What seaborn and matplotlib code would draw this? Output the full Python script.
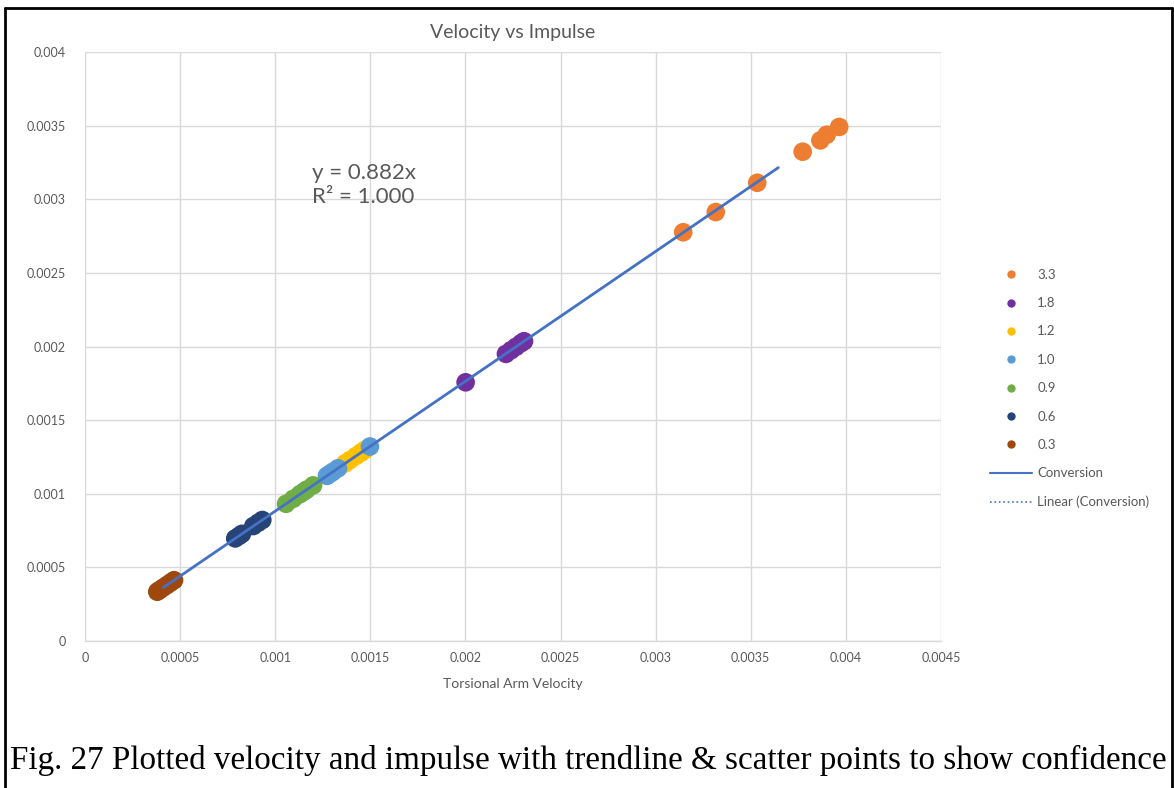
import numpy as np
import pandas as pd
import matplotlib
matplotlib.use("Agg")
import matplotlib.pyplot as plt
import seaborn as sns
from matplotlib.lines import Line2D

# Measured points per impulse setting (torsional arm velocity, impulse)
groups = ["3.3", "1.8", "1.2", "1.0", "0.9", "0.6", "0.3"]
x_33 = [0.003145, 0.003316, 0.003534, 0.003773, 0.003866, 0.003899, 0.003965]
y_33 = [0.002776, 0.002913, 0.003112, 0.003323, 0.003400, 0.003438, 0.003491]
x_18 = [0.002001, 0.002213, 0.002240, 0.002266, 0.002292, 0.002308]
y_18 = [0.001757, 0.001950, 0.001975, 0.001998, 0.002022, 0.002036]
x_12 = [0.001367, 0.001393, 0.001425, 0.001451, 0.001472]
y_12 = [0.001206, 0.001229, 0.001257, 0.001280, 0.001298]
x_10 = [0.001150, 0.001272, 0.001290, 0.001304, 0.001330, 0.001498]
y_10 = [0.001014, 0.001122, 0.001138, 0.001150, 0.001173, 0.001321]
x_09 = [0.001057, 0.001095, 0.001130, 0.001165, 0.001199]
y_09 = [0.000932, 0.000966, 0.000997, 0.001028, 0.001057]
x_06 = [0.000790, 0.000810, 0.000825, 0.000885, 0.000910, 0.000932]
y_06 = [0.000697, 0.000714, 0.000728, 0.000781, 0.000803, 0.000822]
x_03 = [0.000380, 0.000392, 0.000410, 0.000430, 0.000450, 0.000468]
y_03 = [0.000335, 0.000346, 0.000362, 0.000379, 0.000397, 0.000413]

# Conversion line: y = 0.882x over the measured span
slope = 0.882
r_squared = 1.000
conv_x = [0.000412, 0.003645]

palette = ["#ED7D31", "#7030A0", "#FFC000", "#5B9BD5", "#70AD47", "#264478", "#9E480E"]

xs = [x_33, x_18, x_12, x_10, x_09, x_06, x_03]
ys = [y_33, y_18, y_12, y_10, y_09, y_06, y_03]
df = pd.concat(
    [pd.DataFrame({"velocity": x, "impulse": y, "setting": g}) for g, x, y in zip(groups, xs, ys)],
    ignore_index=True,
)

sns.set_theme(style="white")
plt.rcParams["font.family"] = ["Lato", "DejaVu Sans"]
grey = "#595959"

fig = plt.figure(figsize=(11.74, 7.88), dpi=100)
ax = fig.add_axes([0.0724, 0.1865, 0.7291, 0.7475])

sns.scatterplot(data=df, x="velocity", y="impulse", hue="setting", hue_order=groups,
                palette=palette, s=180, edgecolor="none", alpha=1.0, legend=False,
                ax=ax, zorder=3)

conv = pd.DataFrame({"velocity": conv_x, "impulse": [slope * v for v in conv_x]})
sns.lineplot(data=conv, x="velocity", y="impulse", color="#4472C4", linewidth=2.0,
             ax=ax, zorder=4)
ax.plot(conv["velocity"], conv["impulse"], color="#4472C4", linewidth=1.0,
        linestyle=":", zorder=4)

ax.set_xlim(0, 0.0045)
ax.set_ylim(0, 0.004)
xt = np.arange(0, 0.00451, 0.0005)
yt = np.arange(0, 0.00401, 0.0005)
ax.set_xticks(xt)
ax.set_yticks(yt)
ax.set_xticklabels(["0", "0.0005", "0.001", "0.0015", "0.002", "0.0025",
                    "0.003", "0.0035", "0.004", "0.0045"])
ax.set_yticklabels(["0", "0.0005", "0.001", "0.0015", "0.002", "0.0025",
                    "0.003", "0.0035", "0.004"])
ax.tick_params(axis="both", labelsize=9, colors=grey, length=0, pad=8)
ax.tick_params(axis="y", pad=14)
ax.grid(True, color="#d9d9d9", linewidth=1.0)
ax.set_axisbelow(True)
for side in ["top", "right", "left"]:
    ax.spines[side].set_visible(False)
ax.spines["bottom"].set_color("#d9d9d9")
ax.spines["bottom"].set_linewidth(1.0)

ax.set_xlabel("Torsional Arm Velocity", fontsize=10, color=grey, labelpad=10)
ax.set_ylabel("")
ax.set_title("Velocity vs Impulse", fontsize=14, color=grey, pad=10)

ax.text(0.001195, 0.002945, f"y = {slope:.3f}x\nR² = {r_squared:.3f}", fontsize=16,
        color=grey, ha="left", va="bottom", linespacing=1.3, zorder=5)

handles = [Line2D([], [], marker="o", linestyle="none", markersize=6,
                  markerfacecolor=c, markeredgecolor="none", label=g)
           for g, c in zip(groups, palette)]
handles.append(Line2D([], [], color="#4472C4", linewidth=1.5, label="Conversion"))
handles.append(Line2D([], [], color="#4472C4", linewidth=1.2, linestyle=":",
                      label="Linear (Conversion)"))
leg = fig.legend(handles=handles, loc="upper left", bbox_to_anchor=(0.833, 0.674),
                 frameon=False, fontsize=9.5, labelspacing=1.24, handlelength=3.2,
                 handletextpad=0.4, labelcolor=grey)

fig.text(0.0085, 0.035, "Fig. 27 Plotted velocity and impulse with trendline & scatter points to show confidence",
         fontsize=23.9, family=["Liberation Serif", "DejaVu Serif"], color="black",
         ha="left", va="center")

# Page frame around the figure
for xy in [([0.0043, 0.0043], [0.0, 0.99]), ([0.0043, 0.998], [0.99, 0.99]),
           ([0.998, 0.998], [0.0, 0.99])]:
    fig.add_artist(Line2D(xy[0], xy[1], color="black", linewidth=2.0,
                          transform=fig.transFigure))

fig.savefig("out.png", dpi=100)
